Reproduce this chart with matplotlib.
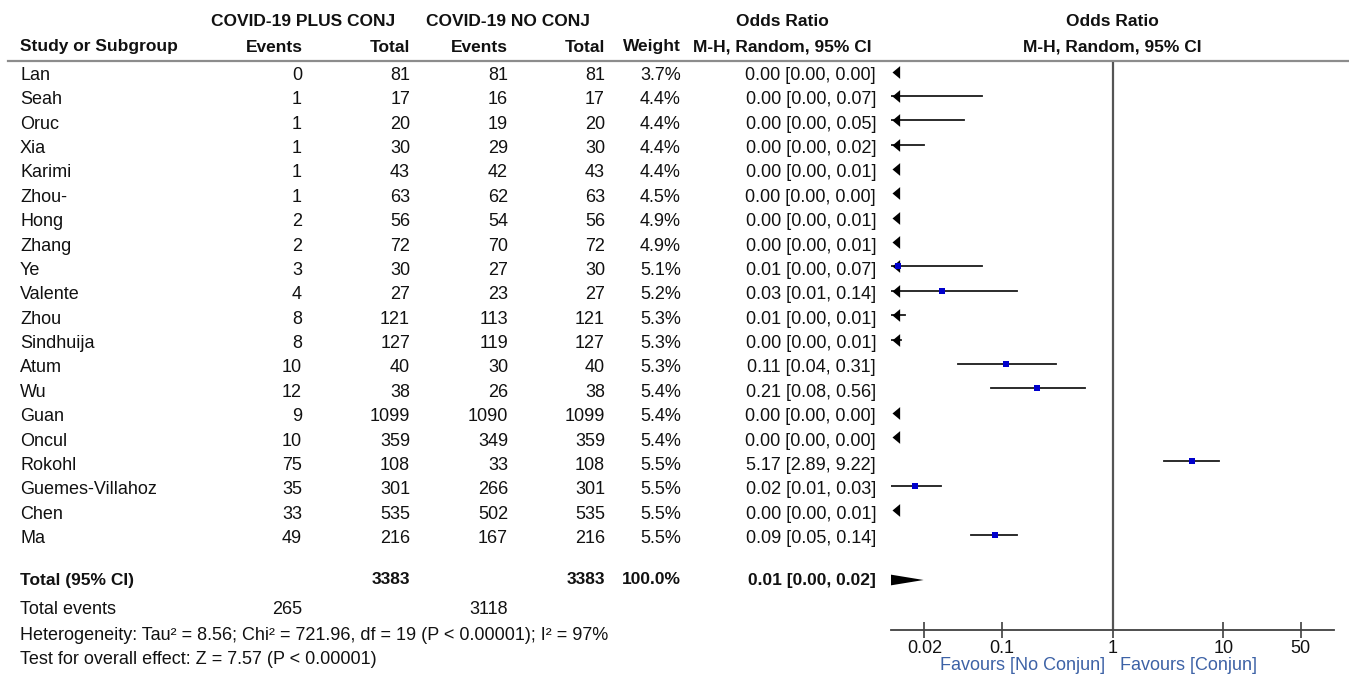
"""
Forest plot: COVID-19 with vs without conjunctivitis (odds ratio, M-H random).
"""

import matplotlib.pyplot as plt
import numpy as np
from matplotlib.path import Path
from matplotlib.transforms import offset_copy

# ---- data ----
studies = ['Lan', 'Seah', 'Oruc', 'Xia', 'Karimi', 'Zhou-', 'Hong', 'Zhang', 'Ye',
           'Valente', 'Zhou', 'Sindhuija', 'Atum', 'Wu', 'Guan', 'Oncul', 'Rokohl',
           'Guemes-Villahoz', 'Chen', 'Ma']
events_conj = [0, 1, 1, 1, 1, 1, 2, 2, 3, 4, 8, 8, 10, 12, 9, 10, 75, 35, 33, 49]
total_conj = [81, 17, 20, 30, 43, 63, 56, 72, 30, 27, 121, 127, 40, 38, 1099, 359,
              108, 301, 535, 216]
events_noconj = [81, 16, 19, 29, 42, 62, 54, 70, 27, 23, 113, 119, 30, 26, 1090, 349,
                 33, 266, 502, 167]
total_noconj = [81, 17, 20, 30, 43, 63, 56, 72, 30, 27, 121, 127, 40, 38, 1099, 359,
                108, 301, 535, 216]
weights = [3.7, 4.4, 4.4, 4.4, 4.4, 4.5, 4.9, 4.9, 5.1, 5.2, 5.3, 5.3, 5.3, 5.4, 5.4,
           5.4, 5.5, 5.5, 5.5, 5.5]
# odds ratios and 95% CI (values below 0.01 estimated from the plot)
or_est = [0.0002, 0.002, 0.002, 0.0012, 0.0006, 0.0003, 0.0007, 0.0006, 0.0115, 0.029,
          0.0055, 0.0045, 0.11, 0.21, 0.0001, 0.0009, 5.17, 0.0166, 0.0042, 0.087]
or_low = [0.00001, 0.0001, 0.0001, 0.0001, 0.00004, 0.00002, 0.0001, 0.0001, 0.002,
          0.0062, 0.002, 0.0016, 0.04, 0.08, 0.00005, 0.0005, 2.89, 0.0101, 0.0026, 0.053]
or_high = [0.004, 0.067, 0.046, 0.0197, 0.0085, 0.0045, 0.0065, 0.0055, 0.066, 0.137,
           0.0134, 0.0123, 0.31, 0.56, 0.0002, 0.0016, 9.22, 0.028, 0.0068, 0.138]

total_est, total_low, total_high = 0.0098, 0.0005, 0.0197
total_events = (265, 3118)
total_n = (3383, 3383)

x_ticks = [0.02, 0.1, 1, 10, 50]
x_ticklabels = ['0.02', '0.1', '1', '10', '50']

# ---- layout (pixels) ----
W, H = 1349, 675
ROW0, ROW_STEP = 74, 24.37
Y_TOTAL = 580
FP_LEFT, FP_RIGHT, FP_TOP, FP_BOTTOM = 891, 1334, 62, 630

NORMAL = ['Liberation Sans', 'DejaVu Sans']
NARROW = ['Liberation Sans Narrow', 'Liberation Sans', 'DejaVu Sans']
FS = 13
TXT = '#111111'

fig = plt.figure(figsize=(W / 100, H / 100), dpi=100)
fig.patch.set_facecolor('white')

# text layer in pixel coordinates
tx = fig.add_axes([0, 0, 1, 1])
tx.set_xlim(0, W)
tx.set_ylim(H, 0)
tx.axis('off')


def put(x, y, s, ha='left', bold=False, narrow=False, size=FS, color=TXT):
    tx.text(x, y, s, ha=ha, va='center', fontsize=size, color=color,
            family=NARROW if narrow else NORMAL,
            fontweight='bold' if bold else 'normal')


# headers
hdr = dict(bold=True, narrow=True, size=12.5)
put(303, 22, 'COVID-19 PLUS CONJ', ha='center', **hdr)
put(508, 22, 'COVID-19 NO CONJ', ha='center', **hdr)
put(782, 22, 'Odds Ratio', ha='center', **hdr)
put(1112, 22, 'Odds Ratio', ha='center', **hdr)
put(20, 47, 'Study or Subgroup', **hdr)
put(303, 47, 'Events', ha='right', **hdr)
put(410, 47, 'Total', ha='right', **hdr)
put(508, 47, 'Events', ha='right', **hdr)
put(605, 47, 'Total', ha='right', **hdr)
put(681, 47, 'Weight', ha='right', **hdr)
put(782, 47, 'M-H, Random, 95% CI', ha='center', **hdr)
put(1112, 47, 'M-H, Random, 95% CI', ha='center', **hdr)
tx.plot([8, W], [61, 61], color='#8c8c8c', lw=1.6)

# study rows
row_y = ROW0 + ROW_STEP * np.arange(len(studies))
text_y = row_y + 1.5
for i, y in enumerate(text_y):
    put(20, y, studies[i])
    put(302, y, str(events_conj[i]), ha='right')
    put(410, y, str(total_conj[i]), ha='right')
    put(508, y, str(events_noconj[i]), ha='right')
    put(605, y, str(total_noconj[i]), ha='right')
    put(681, y, f'{weights[i]:.1f}%', ha='right')
    put(876, y, f'{or_est[i]:.2f} [{or_low[i]:.2f}, {or_high[i]:.2f}]', ha='right')

# totals and summary text
put(20, Y_TOTAL, 'Total (95% CI)', **hdr)
put(410, Y_TOTAL, str(total_n[0]), ha='right', **hdr)
put(605, Y_TOTAL, str(total_n[1]), ha='right', **hdr)
put(681, Y_TOTAL, f'{sum(weights):.1f}%', ha='right', **hdr)
put(876, Y_TOTAL, f'{total_est:.2f} [{total_low:.2f}, {total_high:.2f}]', ha='right', **hdr)
put(20, 610, 'Total events')
put(302, 610, str(total_events[0]), ha='right')
put(508, 610, str(total_events[1]), ha='right')
put(20, 635, 'Heterogeneity: Tau\u00b2 = 8.56; Chi\u00b2 = 721.96, df = 19 (P < 0.00001); I\u00b2 = 97%')
put(20, 659, 'Test for overall effect: Z = 7.57 (P < 0.00001)')

# ---- forest plot ----
ax = fig.add_axes([FP_LEFT / W, (H - FP_BOTTOM) / H,
                   (FP_RIGHT - FP_LEFT) / W, (FP_BOTTOM - FP_TOP) / H])
ax.set_xscale('log')
ax.set_xlim(0.01, 100)
ax.set_ylim(FP_BOTTOM, FP_TOP)
ax.patch.set_alpha(0)
for side in ['top', 'right', 'left']:
    ax.spines[side].set_visible(False)
ax.spines['bottom'].set_color('#404040')
ax.spines['bottom'].set_linewidth(1.3)
ax.set_yticks([])
ax.set_xticks(x_ticks)
ax.set_xticklabels(x_ticklabels, family=NORMAL, fontsize=FS, color=TXT)
ax.minorticks_off()
ax.tick_params(axis='x', direction='inout', length=12, width=1.2, color='#404040', pad=1)

ax.axvline(1, color='#555555', lw=1.6)

# narrow left-pointing arrowhead, tip at the origin
arrow_head = Path([(0, 0), (0.6, 0.5), (0.6, -0.5), (0, 0)],
                  [Path.MOVETO, Path.LINETO, Path.LINETO, Path.CLOSEPOLY])

xmin = ax.get_xlim()[0]
mark_y = row_y - 2.5
arrow_tr = offset_copy(ax.transData, fig=fig, x=0.5, y=0, units='dots')
for i, y in enumerate(mark_y):
    lo = max(or_low[i], xmin)
    if or_high[i] > xmin:
        ax.plot([lo, or_high[i]], [y, y], color='#1a1a1a', lw=1.3)
    if or_low[i] < xmin:
        ax.plot(xmin, y, marker=arrow_head, ms=11, color='black', mew=0,
                transform=arrow_tr, clip_on=False)
    if or_est[i] >= xmin:
        ax.plot(or_est[i], y, marker='s', ms=4.5, color='#0000cc', mew=0)

# pooled estimate diamond (clipped at the left edge)
dh = 5.5
ax.fill([total_low, total_est, total_high, total_est],
        [Y_TOTAL, Y_TOTAL - dh, Y_TOTAL, Y_TOTAL + dh], color='black', lw=0)

tx.text(1105, 666, 'Favours [No Conjun]', ha='right', va='center', fontsize=FS,
        family=NORMAL, color='#3d62a6')
tx.text(1120, 666, 'Favours [Conjun]', ha='left', va='center', fontsize=FS,
        family=NORMAL, color='#3d62a6')

fig.savefig('out.png', dpi=100, facecolor='white')
